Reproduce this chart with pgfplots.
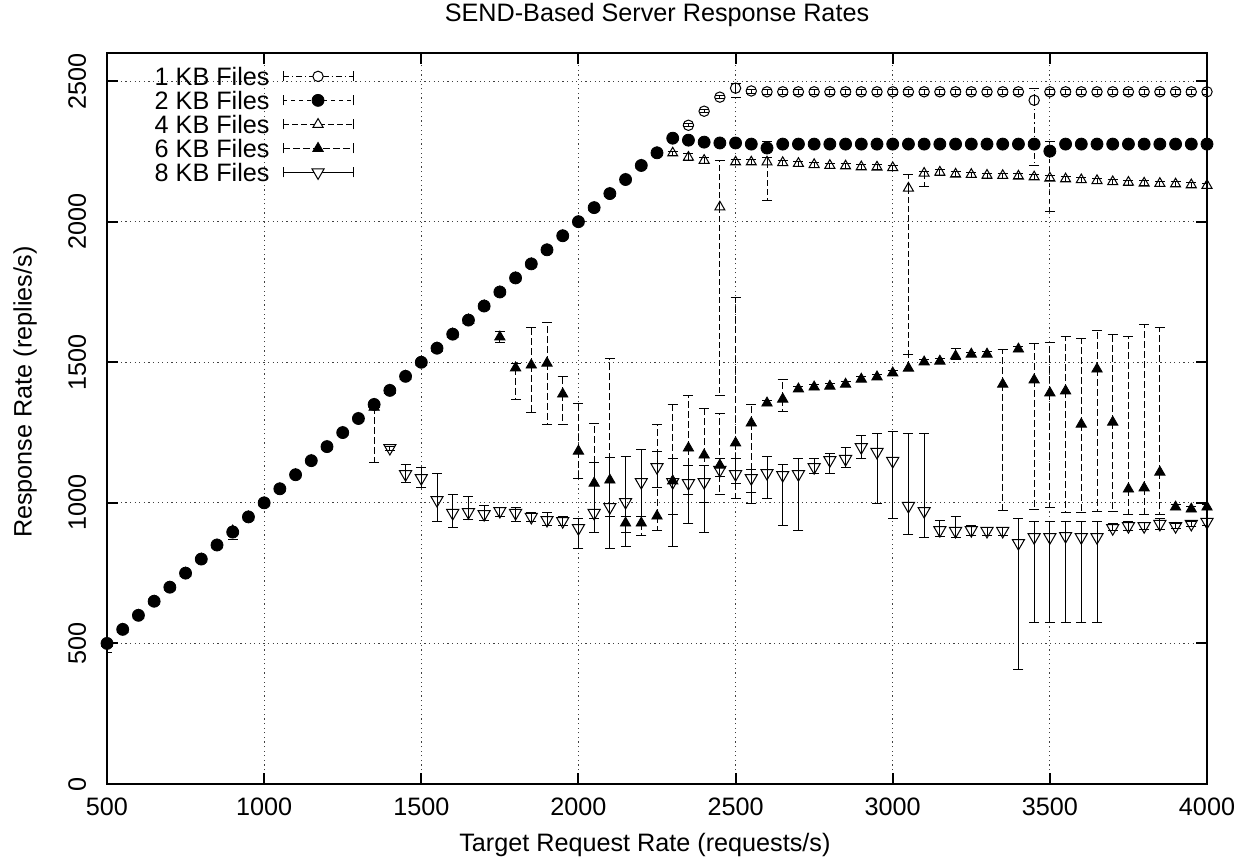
\documentclass[12pt,border=0pt]{standalone}
\usepackage{fontspec}
\setmainfont{Liberation Sans}
\usepackage{pgfplots}
\usepackage{pgfplotstable}
\pgfplotsset{compat=1.18}

\pgfplotstableread{
x y lo hi
500 500 500 500
550 550 550 550
600 600 600 600
650 650 650 650
700 700 700 700
750 750 750 750
800 800 800 800
850 850 850 850
900 900 900 900
950 950 950 950
1000 1000 1000 1000
1050 1050 1050 1050
1100 1100 1100 1100
1150 1150 1150 1150
1200 1200 1200 1200
1250 1250 1250 1250
1300 1300 1300 1300
1350 1350 1350 1350
1400 1400 1400 1400
1450 1450 1450 1450
1500 1500 1500 1500
1550 1550 1550 1550
1600 1600 1600 1600
1650 1650 1650 1650
1700 1700 1700 1700
1750 1750 1750 1750
1800 1800 1800 1800
1850 1850 1850 1850
1900 1900 1900 1900
1950 1950 1950 1950
2000 2000 2000 2000
2050 2050 2050 2050
2100 2100 2100 2100
2150 2150 2150 2150
2200 2200 2200 2200
2250 2245 2245 2245
2300 2297 2297 2297
2350 2343 2338 2348
2400 2393 2388 2398
2450 2443 2438 2448
2500 2475 2443 2493
2550 2465 2455 2470
2600 2462 2452 2470
2650 2462 2452 2470
2700 2462 2452 2470
2750 2462 2452 2470
2800 2462 2452 2470
2850 2462 2452 2470
2900 2462 2452 2470
2950 2462 2452 2470
3000 2462 2452 2470
3050 2462 2452 2470
3100 2462 2452 2470
3150 2462 2452 2470
3200 2462 2452 2470
3250 2462 2452 2470
3300 2462 2452 2470
3350 2462 2452 2470
3400 2462 2452 2470
3450 2432 2201 2473
3500 2462 2452 2470
3550 2462 2452 2470
3600 2462 2452 2470
3650 2462 2452 2470
3700 2462 2452 2470
3750 2462 2452 2470
3800 2462 2452 2470
3850 2462 2452 2470
3900 2462 2452 2470
3950 2462 2452 2470
4000 2462 2452 2470
}\onekb

\pgfplotstableread{
x y lo hi
500 500 467 500
550 550 550 550
600 600 600 600
650 650 650 650
700 700 700 700
750 750 750 750
800 800 800 800
850 850 850 850
900 896 868 900
950 950 950 950
1000 1000 1000 1000
1050 1050 1050 1050
1100 1100 1100 1100
1150 1150 1150 1150
1200 1200 1200 1200
1250 1250 1250 1250
1300 1300 1300 1300
1350 1350 1350 1350
1400 1400 1400 1400
1450 1450 1450 1450
1500 1500 1500 1500
1550 1550 1550 1550
1600 1600 1600 1600
1650 1650 1650 1650
1700 1700 1700 1700
1750 1750 1750 1750
1800 1800 1800 1800
1850 1850 1850 1850
1900 1900 1900 1900
1950 1950 1950 1950
2000 2000 2000 2000
2050 2050 2050 2050
2100 2100 2100 2100
2150 2150 2150 2150
2200 2200 2200 2200
2250 2245 2235 2245
2300 2297 2297 2297
2350 2290 2290 2290
2400 2283 2283 2283
2450 2280 2280 2280
2500 2280 2280 2280
2550 2276 2276 2276
2600 2262 2262 2287
2650 2276 2276 2276
2700 2276 2276 2276
2750 2276 2276 2276
2800 2276 2276 2276
2850 2276 2276 2276
2900 2276 2276 2276
2950 2276 2276 2276
3000 2276 2276 2276
3050 2276 2276 2276
3100 2276 2276 2276
3150 2276 2276 2276
3200 2276 2276 2276
3250 2276 2276 2276
3300 2276 2276 2276
3350 2276 2276 2276
3400 2276 2276 2276
3450 2276 2276 2276
3500 2251 2035 2287
3550 2276 2276 2276
3600 2276 2276 2276
3650 2276 2276 2276
3700 2276 2276 2276
3750 2276 2276 2276
3800 2276 2276 2276
3850 2276 2276 2276
3900 2276 2276 2276
3950 2276 2276 2276
4000 2276 2276 2276
}\twokb

\pgfplotstableread{
x y lo hi
500 500 500 500
550 550 550 550
600 600 600 600
650 650 650 650
700 700 700 700
750 750 750 750
800 800 800 800
850 850 850 850
900 900 900 900
950 950 950 950
1000 1000 1000 1000
1050 1050 1050 1050
1100 1100 1100 1100
1150 1150 1150 1150
1200 1200 1200 1200
1250 1250 1250 1250
1300 1300 1300 1300
1350 1350 1350 1350
1400 1400 1400 1400
1450 1450 1450 1450
1500 1500 1500 1500
1550 1550 1550 1550
1600 1600 1600 1600
1650 1650 1650 1650
1700 1700 1700 1700
1750 1750 1750 1750
1800 1800 1800 1800
1850 1850 1850 1850
1900 1900 1900 1900
1950 1950 1950 1950
2000 2000 2000 2000
2050 2050 2050 2050
2100 2100 2100 2100
2150 2150 2150 2150
2200 2200 2200 2200
2250 2245 2245 2245
2300 2244 2236 2250
2350 2229 2218 2244
2400 2218 2208 2228
2450 2052 1383 2219
2500 2212 2202 2220
2550 2212 2202 2220
2600 2212 2077 2230
2650 2210 2200 2218
2700 2207 2197 2215
2750 2203 2193 2211
2800 2200 2190 2208
2850 2198 2188 2206
2900 2195 2185 2203
2950 2194 2184 2202
3000 2192 2182 2200
3050 2119 1526 2169
3100 2172 2125 2180
3150 2176 2166 2184
3200 2169 2159 2177
3250 2168 2158 2176
3300 2165 2155 2173
3350 2164 2154 2172
3400 2162 2152 2170
3450 2159 2149 2167
3500 2155 2145 2163
3550 2152 2142 2160
3600 2149 2139 2157
3650 2146 2136 2154
3700 2142 2132 2150
3750 2140 2130 2148
3800 2137 2127 2145
3850 2136 2126 2144
3900 2134 2124 2142
3950 2131 2121 2139
4000 2129 2119 2137
}\fourkb

\pgfplotstableread{
x y lo hi
1350 1340 1145 1350
1400 1400 1400 1400
1450 1450 1450 1450
1500 1500 1500 1500
1550 1550 1550 1550
1600 1600 1600 1600
1650 1650 1650 1650
1700 1700 1700 1700
1750 1590 1570 1610
1800 1480 1369 1497
1850 1490 1323 1625
1900 1497 1280 1643
1950 1387 1280 1451
2000 1184 1088 1355
2050 1070 946 1284
2100 1081 950 1515
2150 928 896 950
2200 928 885 950
2250 953 900 1280
2300 1078 960 1350
2350 1195 1028 1383
2400 1170 1000 1334
2450 1134 1028 1319
2500 1213 1017 1732
2550 1284 1038 1351
2600 1355 1345 1365
2650 1369 1326 1437
2700 1405 1395 1415
2750 1412 1402 1420
2800 1415 1407 1423
2850 1422 1414 1430
2900 1440 1432 1448
2950 1448 1440 1456
3000 1462 1454 1470
3050 1479 1470 1529
3100 1501 1493 1509
3150 1504 1496 1512
3200 1522 1510 1550
3250 1529 1520 1535
3300 1529 1521 1537
3350 1422 974 1547
3400 1547 1540 1555
3450 1437 978 1568
3500 1391 985 1572
3550 1398 967 1590
3600 1280 967 1586
3650 1476 971 1614
3700 1287 971 1600
3750 1049 960 1593
3800 1053 960 1636
3850 1109 957 1622
3900 985 975 995
3950 978 970 988
4000 985 975 995
}\sixkb

\pgfplotstableread{
x y lo hi
1400 1195 1185 1200
1450 1102 1074 1138
1500 1088 1053 1124
1550 1010 935 1106
1600 964 914 1028
1650 967 942 1024
1700 960 939 992
1750 971 950 985
1800 964 932 982
1850 950 932 964
1900 939 918 964
1950 935 921 950
2000 910 839 946
2050 964 896 1142
2100 985 836 1163
2150 1003 843 1166
2200 1074 950 1191
2250 1127 1056 1181
2300 1074 843 1156
2350 1070 928 1134
2400 1074 893 1134
2450 1117 1092 1156
2500 1102 1070 1156
2550 1088 996 1120
2600 1106 1017 1166
2650 1099 921 1138
2700 1102 900 1156
2750 1127 1106 1159
2800 1152 1106 1174
2850 1156 1124 1198
2900 1198 1156 1238
2950 1181 999 1245
3000 1149 946 1255
3050 989 889 1248
3100 971 878 1248
3150 903 882 939
3200 900 878 953
3250 903 885 921
3300 900 885 914
3350 900 885 914
3400 857 409 946
3450 878 576 935
3500 878 576 932
3550 882 576 932
3600 878 576 932
3650 878 576 935
3700 910 900 925
3750 917 903 932
3800 917 905 930
3850 925 907 946
3900 917 910 925
3950 925 915 935
4000 932 920 945
}\eightkb

\begin{document}
\fontsize{12.6pt}{15pt}\selectfont
\begin{tikzpicture}
\begin{axis}[
  scale only axis,
  width=550pt, height=365.5pt,
  xmin=500, xmax=4000, ymin=0, ymax=2600,
  xtick={500,1000,...,4000},
  ytick={0,500,...,2500},
  /pgf/number format/1000 sep={},
  /pgf/number format/assume math mode=true,
  tick align=inside,
  major tick length=5.5pt,
  major tick style={line width=1pt, black},
  axis line style={line width=1.1pt},
  grid=major,
  grid style={line width=0.5pt, black!75, dash pattern=on 0.6pt off 1.7pt},
  xticklabel style={yshift=-2.3pt},
  yticklabel shift=6pt,
  yticklabel style={rotate=90, anchor=south},
  title={SEND-Based Server Response Rates},
  title style={at={(axis description cs:0.5,1.036)}, anchor=center},
  xlabel={Target Request Rate (requests/s)},
  xlabel style={at={(axis description cs:0.489,-0.0834)}, anchor=center},
  ylabel={Response Rate (replies/s)},
  ylabel style={at={(axis description cs:-0.0745,0.536)}, anchor=center},
  legend plot pos=right,
  legend cell align=right,
  legend style={draw=none, fill=none, at={(axis description cs:0.2245,0.985)}, anchor=north east,
    row sep=0pt, column sep=5pt, inner sep=0pt,
    nodes={inner sep=1.5pt, text height=9pt, text depth=0pt}},
  error bars/y dir=both,
  error bars/y explicit,
]

\addplot[only marks, black, mark=o, mark size=2.6pt, mark options={solid, line width=0.5pt},
  error bars/error bar style={line width=0.5pt, dash pattern=on 3pt off 1.5pt on 0.6pt off 1.5pt},
  error bars/error mark options={solid, line width=0.5pt, mark size=2.5pt, rotate=90},
  legend image code/.code={
    \draw[line width=0.5pt, dash pattern=on 3pt off 1.5pt on 0.6pt off 1.5pt] (0pt,0pt) -- (35pt,0pt);
    \draw[line width=0.5pt] (0pt,-2.5pt) -- (0pt,2.5pt) (35pt,-2.5pt) -- (35pt,2.5pt);
    \draw[line width=0.5pt, fill=white] (17.5pt,0pt) circle (2.6pt);
  }]
  table[x=x, y=y, y error plus expr=\thisrow{hi}-\thisrow{y}, y error minus expr=\thisrow{y}-\thisrow{lo}] {\onekb};
\addlegendentry{1 KB Files}

\addplot[only marks, black, mark=*, mark size=3pt, mark options={solid, fill=black},
  error bars/error bar style={line width=0.5pt, dash pattern=on 2pt off 2pt},
  error bars/error mark options={solid, line width=0.5pt, mark size=2.5pt, rotate=90},
  legend image code/.code={
    \draw[line width=0.5pt, dash pattern=on 2pt off 2pt] (0pt,0pt) -- (35pt,0pt);
    \draw[line width=0.5pt] (0pt,-2.5pt) -- (0pt,2.5pt) (35pt,-2.5pt) -- (35pt,2.5pt);
    \fill (17.5pt,0pt) circle (3pt);
  }]
  table[x=x, y=y, y error plus expr=\thisrow{hi}-\thisrow{y}, y error minus expr=\thisrow{y}-\thisrow{lo}] {\twokb};
\addlegendentry{2 KB Files}

\addplot[only marks, black, mark=triangle, mark size=2.9pt, mark options={solid, line width=0.5pt},
  error bars/error bar style={line width=0.5pt, dash pattern=on 3pt off 1.5pt},
  error bars/error mark options={solid, line width=0.5pt, mark size=2.5pt, rotate=90},
  legend image code/.code={
    \draw[line width=0.5pt, dash pattern=on 3pt off 1.5pt] (0pt,0pt) -- (35pt,0pt);
    \draw[line width=0.5pt] (0pt,-2.5pt) -- (0pt,2.5pt) (35pt,-2.5pt) -- (35pt,2.5pt);
    \draw[line width=0.5pt, fill=white] (17.5pt,2.9pt) -- (20.01pt,-1.45pt) -- (14.99pt,-1.45pt) -- cycle;
  }]
  table[x=x, y=y, y error plus expr=\thisrow{hi}-\thisrow{y}, y error minus expr=\thisrow{y}-\thisrow{lo}] {\fourkb};
\addlegendentry{4 KB Files}

\addplot[only marks, black, mark=triangle*, mark size=3pt, mark options={solid, fill=black},
  error bars/error bar style={line width=0.5pt, dash pattern=on 3.5pt off 1.5pt},
  error bars/error mark options={solid, line width=0.5pt, mark size=2.5pt, rotate=90},
  legend image code/.code={
    \draw[line width=0.5pt, dash pattern=on 3.5pt off 1.5pt] (0pt,0pt) -- (35pt,0pt);
    \draw[line width=0.5pt] (0pt,-2.5pt) -- (0pt,2.5pt) (35pt,-2.5pt) -- (35pt,2.5pt);
    \fill (17.5pt,3pt) -- (20.1pt,-1.5pt) -- (14.9pt,-1.5pt) -- cycle;
  }]
  table[x=x, y=y, y error plus expr=\thisrow{hi}-\thisrow{y}, y error minus expr=\thisrow{y}-\thisrow{lo}] {\sixkb};
\addlegendentry{6 KB Files}

\addplot[only marks, black, mark=triangle, mark size=3.5pt, mark options={solid, line width=0.5pt, rotate=180},
  error bars/error bar style={line width=0.5pt, solid},
  error bars/error mark options={solid, line width=0.5pt, mark size=2.5pt, rotate=90},
  legend image code/.code={
    \draw[line width=0.5pt] (0pt,0pt) -- (35pt,0pt);
    \draw[line width=0.5pt] (0pt,-2.5pt) -- (0pt,2.5pt) (35pt,-2.5pt) -- (35pt,2.5pt);
    \draw[line width=0.5pt, fill=white] (17.5pt,-3.5pt) -- (20.53pt,1.75pt) -- (14.47pt,1.75pt) -- cycle;
  }]
  table[x=x, y=y, y error plus expr=\thisrow{hi}-\thisrow{y}, y error minus expr=\thisrow{y}-\thisrow{lo}] {\eightkb};
\addlegendentry{8 KB Files}

\end{axis}
\pgfresetboundingbox
\path (-53.5pt,-37.5pt) rectangle (567.5pt,392pt);
\end{tikzpicture}
\end{document}
